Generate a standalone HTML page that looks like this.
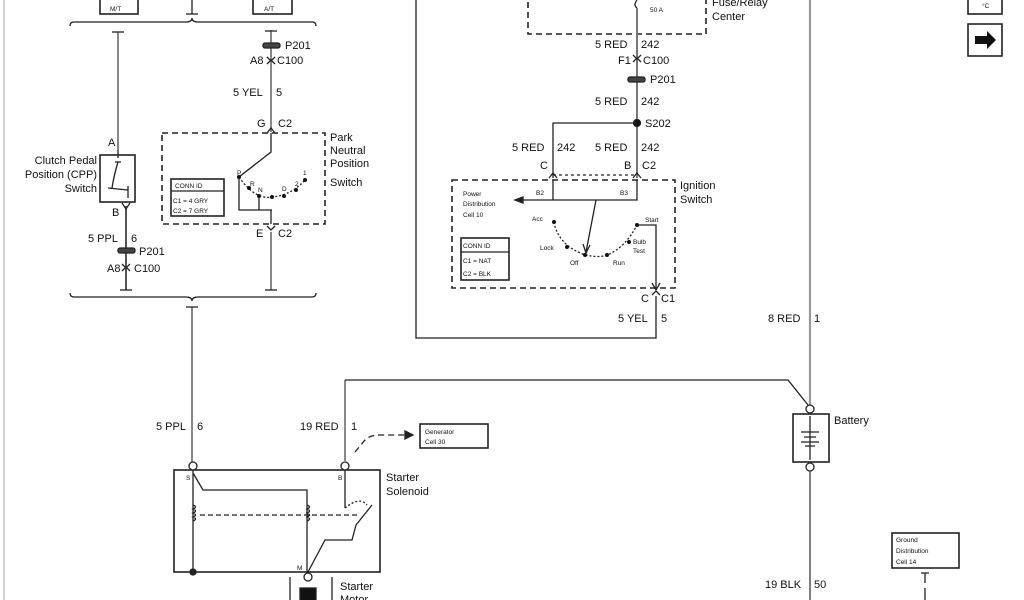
<!DOCTYPE html>
<html><head><style>html,body{margin:0;padding:0;background:#fff}svg{display:block}</style></head><body>
<svg width="1024" height="600" viewBox="0 0 1024 600" xmlns="http://www.w3.org/2000/svg" font-family="Liberation Sans, sans-serif" font-size="11" fill="#111">
<g stroke="#222" fill="none" stroke-width="1.3">
<line x1="4" y1="0" x2="4" y2="600" stroke="#bbb"/>
<!-- top boxes -->
<rect x="100" y="-2" width="38" height="16" stroke-width="1.6"/>
<rect x="253" y="-2" width="39" height="16" stroke-width="1.6"/>
<line x1="192" y1="0" x2="192" y2="14"/><line x1="186" y1="14" x2="198" y2="14"/>
<path d="M70,26 Q70,22 74,22 L186,22 Q192,22 192,18 Q192,22 198,22 L312,22 Q316,22 316,26"/>
<!-- CPP wire -->
<line x1="118" y1="32" x2="118" y2="150" stroke="#888" stroke-width="2"/><line x1="112" y1="32" x2="124" y2="32"/>
<rect x="100" y="155" width="35" height="47" stroke-width="1.6"/>
<path d="M118,150 L118,158 M115,162 L121,162 M118,162 Q114,175 112,188 M108,188 L128,190 M128,186 L128,198"/>
<line x1="126" y1="206" x2="126" y2="290" stroke="#555" stroke-width="2"/><line x1="120" y1="290" x2="132" y2="290"/>
<path d="M122,203 L126,209 L130,203"/>
<rect x="118" y="248" width="17" height="5" rx="2" fill="#444"/>
<path d="M122,264 L126,268 L130,264 M122,271 L126,267 L130,271"/>
<!-- PNP wire -->
<line x1="271" y1="30" x2="271" y2="132" stroke="#888" stroke-width="2"/><line x1="265" y1="31" x2="277" y2="31"/>
<rect x="263" y="43" width="17" height="5" rx="2" fill="#444"/>
<path d="M267,57 L271,61 L275,57 M267,64 L271,60 L275,64"/>
<path d="M267,133 L271,128 L275,133"/>
<rect x="162" y="133" width="163" height="91" stroke-dasharray="6,4" stroke-width="1.6"/>
<path d="M271,133 L271,152 L239,177 L239,210 L272,210 M259,210 L259,196 M271,210 L271,224"/>
<path d="M239,177 Q255,200 272,197 Q292,195 305,180" stroke-dasharray="2,2"/>
<rect x="171" y="179" width="53" height="37" stroke-width="1.6"/><line x1="171" y1="191" x2="224" y2="191"/>
<path d="M267,226 L271,230 L275,226"/>
<line x1="271" y1="232" x2="271" y2="290" stroke="#888" stroke-width="2"/><line x1="265" y1="290" x2="277" y2="290"/>
<path d="M70,293 Q70,297 74,297 L186,297 Q192,297 192,301 Q192,297 198,297 L312,297 Q316,297 316,293"/>
<!-- main wire to solenoid -->
<line x1="192" y1="307" x2="192" y2="462" stroke="#888" stroke-width="2"/><line x1="186" y1="307" x2="198" y2="307"/>
<!-- solenoid -->
<rect x="174" y="470" width="206" height="102" stroke-width="1.6"/>
<circle cx="193" cy="466" r="4" fill="#fff"/><circle cx="345" cy="466" r="4" fill="#fff"/><circle cx="308" cy="577" r="4" fill="#fff"/>
<path d="M193,470 L193,572 M193,473 L203,490 L307,490 L307,572 M345,470 L345,508 M372,505 L356,525 L352,540 L325,540 L308,572"/>
<path d="M193,505 q5,2 0,4 q5,2 0,4 q5,2 0,4 q5,2 0,4 M307,505 q5,2 0,4 q5,2 0,4 q5,2 0,4 q5,2 0,4"/>
<line x1="200" y1="515" x2="360" y2="515" stroke-dasharray="5,3"/>
<path d="M345,508 Q360,496 367,505" stroke-dasharray="2,2"/>
<circle cx="193" cy="572" r="3" fill="#222"/>
<line x1="290" y1="577" x2="290" y2="600"/><line x1="332" y1="577" x2="332" y2="600"/>
<rect x="300" y="588" width="16" height="14" fill="#111"/>
<line x1="345" y1="462" x2="345" y2="380" stroke="#888" stroke-width="2"/>
<path d="M345,380 L788,380 L808,405"/>
<path d="M355,452 L365,440 Q370,435 380,435 L405,435" stroke-dasharray="6,4"/>
<path d="M405,431 L413,435 L405,439 Z" fill="#222"/>
<rect x="420" y="424" width="68" height="24" stroke-width="1.6"/>
<!-- battery -->
<line x1="810" y1="0" x2="810" y2="405" stroke="#999" stroke-width="2.2"/>
<circle cx="810" cy="409" r="4" fill="#fff"/>
<rect x="793" y="414" width="36" height="48" stroke-width="1.6"/>
<path d="M801,432 L819,432 M804,437 L816,437 M801,442 L819,442 M805,446 L815,446 M810,416 L810,460"/>
<circle cx="810" cy="467" r="4" fill="#fff"/>
<line x1="810" y1="471" x2="810" y2="600" stroke="#555" stroke-width="1.5"/>
<rect x="892" y="533" width="67" height="35" stroke-width="1.6"/>
<path d="M921,573 L929,573 M925,573 L925,583 M925,588 L925,600"/>
<!-- icons -->
<rect x="968" y="-2" width="34" height="16" stroke-width="1.6"/>
<rect x="968" y="24" width="34" height="32" stroke-width="1.6"/>
<!-- fuse center -->
<rect x="528" y="-4" width="178" height="38" stroke-dasharray="6,4" stroke-width="1.6"/>
<path d="M637,0 Q633,5 637,8"/>
<line x1="637" y1="8" x2="637" y2="178" stroke="#777" stroke-width="2"/>
<path d="M633,55 L637,59 L641,55 M633,62 L637,58 L641,62"/>
<rect x="628" y="77" width="17" height="5" rx="2" fill="#444"/>
<circle cx="637" cy="123" r="3.5" fill="#111"/>
<path d="M637,123 L553,123 L553,178"/>
<path d="M549,178 L553,173 L557,178 M633,178 L637,173 L641,178"/>
<line x1="553" y1="175" x2="637" y2="175" stroke-dasharray="3,3"/>
<!-- ignition -->
<rect x="452" y="180" width="223" height="108" stroke-dasharray="6,4" stroke-width="1.6"/>
<path d="M553,180 L553,200 M637,180 L637,200 L521,200"/>
<path d="M523,197 L515,200 L523,203 Z" fill="#222"/>
<path d="M596,200 L586,252"/><path d="M583,244 L586,253 L590,245"/>
<path d="M554,222 Q558,245 585,255 Q600,258 607,255 Q625,248 637,225" stroke-dasharray="2,2"/>
<path d="M637,225 L656,225 L656,290"/><path d="M652,283 L656,290 L660,283"/>
<rect x="461" y="238" width="48" height="42" stroke-width="1.6"/><line x1="461" y1="252" x2="509" y2="252"/>
<path d="M652,295 L656,291 L660,295"/>
<path d="M656,296 L656,338 L416,338 L416,0" stroke-width="1.3"/>
</g>
<g fill="#111">
<circle cx="554" cy="222" r="2"/><circle cx="567" cy="247" r="2"/><circle cx="585" cy="255" r="2"/><circle cx="607" cy="255" r="2"/><circle cx="629" cy="242" r="2"/><circle cx="637" cy="225" r="2"/>
<circle cx="239" cy="177" r="2"/><circle cx="249" cy="188" r="2"/><circle cx="259" cy="196" r="2"/><circle cx="272" cy="197" r="2"/><circle cx="284" cy="196" r="2"/><circle cx="296" cy="190" r="2"/><circle cx="305" cy="180" r="2"/>
<path d="M975,36 L987,36 L987,31 L996,40 L987,49 L987,44 L975,44 Z"/>
</g>
<g font-size="6.5">
<text x="110" y="11">M/T</text><text x="264" y="11">A/T</text>
<text x="982" y="8">°C</text>
<text x="175" y="188">CONN ID</text><text x="173" y="203">C1 = 4 GRY</text><text x="173" y="213">C2 = 7 GRY</text>
<text x="463" y="248">CONN ID</text><text x="463" y="263">C1 = NAT</text><text x="463" y="276">C2 = BLK</text>
<text x="463" y="196">Power</text><text x="463" y="206">Distribution</text><text x="463" y="217">Cell 10</text>
<text x="536" y="195">B2</text><text x="620" y="195">B3</text>
<text x="532" y="221">Acc</text><text x="540" y="250">Lock</text><text x="570" y="265">Off</text><text x="613" y="265">Run</text>
<text x="633" y="244">Bulb</text><text x="633" y="253">Test</text><text x="645" y="222">Start</text>
<text x="650" y="12">50 A</text>
<text x="237" y="175">P</text><text x="250" y="186">R</text><text x="258" y="192">N</text><text x="282" y="191">D</text><text x="295" y="186">2</text><text x="303" y="175">1</text>
<text x="425" y="434">Generator</text><text x="425" y="444">Cell 30</text>
<text x="896" y="542">Ground</text><text x="896" y="553">Distribution</text><text x="896" y="564">Cell 14</text>
<text x="186" y="480">S</text><text x="338" y="480">B</text><text x="297" y="570">M</text>
</g>
<g font-size="11">
<text x="285" y="49">P201</text><text x="250" y="64">A8</text><text x="277" y="64">C100</text>
<text x="233" y="96">5 YEL</text><text x="276" y="96">5</text>
<text x="257" y="127">G</text><text x="278" y="127">C2</text>
<text x="330" y="141">Park</text><text x="330" y="154">Neutral</text><text x="330" y="167">Position</text><text x="330" y="186">Switch</text>
<text x="256" y="237">E</text><text x="278" y="237">C2</text>
<text x="108" y="146">A</text><text x="112" y="216">B</text>
<text x="97" y="164" text-anchor="end">Clutch Pedal</text><text x="97" y="178" text-anchor="end">Position (CPP)</text><text x="97" y="192" text-anchor="end">Switch</text>
<text x="88" y="242">5 PPL</text><text x="131" y="242">6</text>
<text x="139" y="255">P201</text><text x="107" y="272">A8</text><text x="134" y="272">C100</text>
<text x="156" y="430">5 PPL</text><text x="197" y="430">6</text>
<text x="300" y="430">19 RED</text><text x="351" y="430">1</text>
<text x="386" y="481">Starter</text><text x="386" y="495">Solenoid</text>
<text x="340" y="590">Starter</text><text x="340" y="603">Motor</text>
<text x="712" y="6">Fuse/Relay</text><text x="712" y="20">Center</text>
<text x="595" y="48">5 RED</text><text x="641" y="48">242</text>
<text x="618" y="64">F1</text><text x="643" y="64">C100</text><text x="650" y="83">P201</text>
<text x="595" y="105">5 RED</text><text x="641" y="105">242</text>
<text x="645" y="127">S202</text>
<text x="512" y="151">5 RED</text><text x="557" y="151">242</text>
<text x="595" y="151">5 RED</text><text x="641" y="151">242</text>
<text x="540" y="169">C</text><text x="624" y="169">B</text><text x="642" y="169">C2</text>
<text x="680" y="189">Ignition</text><text x="680" y="203">Switch</text>
<text x="641" y="302">C</text><text x="661" y="302">C1</text>
<text x="618" y="322">5 YEL</text><text x="661" y="322">5</text>
<text x="768" y="322">8 RED</text><text x="814" y="322">1</text>
<text x="834" y="424">Battery</text>
<text x="765" y="588">19 BLK</text><text x="814" y="588">50</text>
</g>
</svg>
</body></html>
